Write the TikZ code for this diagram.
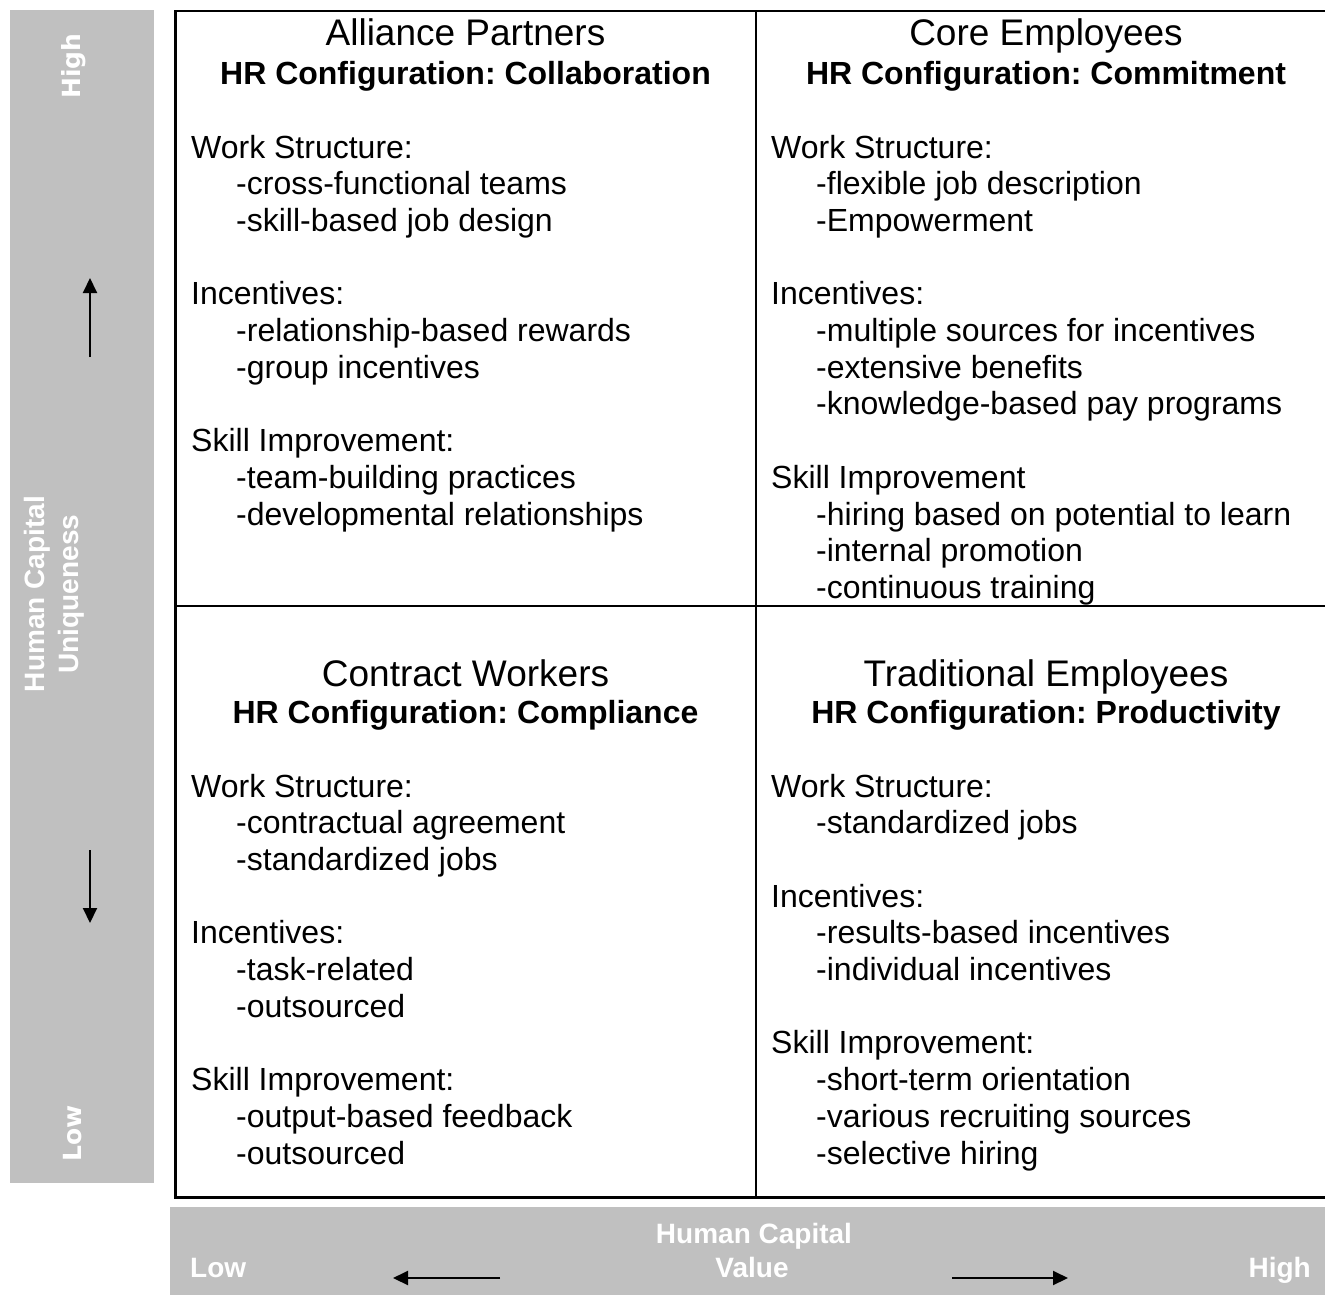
\documentclass[tikz,border=0pt]{standalone}
\usepackage{fontspec}
\setmainfont{Liberation Sans}
\newfontfamily\axisfont{DejaVu Sans}
\usetikzlibrary{arrows.meta}
\definecolor{axisgray}{RGB}{192,192,192}
\frenchspacing
\tikzset{
  frame/.style={line width=2.4pt, line cap=rect},
  band/.style={fill=axisgray, draw=none},
  entry/.style={anchor=base west, inner sep=0pt, font=\fontsize{32}{36}\selectfont},
  qtitle/.style={anchor=base, inner sep=0pt, font=\fontsize{37}{42}\selectfont},
  qconfig/.style={anchor=base, inner sep=0pt, font=\fontsize{32}{36}\selectfont\bfseries},
  axislabel/.style={inner sep=0pt, text=white, font=\fontsize{28}{34}\selectfont\bfseries},
  endlabel/.style={inner sep=0pt, text=white, font=\fontsize{25}{30}\selectfont\axisfont\bfseries},
  axarrow/.style={line width=2pt, -{Triangle[length=15pt,width=14pt]}},
}
\begin{document}
\begin{tikzpicture}[x=1pt, y=-1pt]
\path[use as bounding box] (0,0) rectangle (1325,1295);
\clip (0,0) rectangle (1325,1295);

% grey axis bands
\fill[band] (10,10) rectangle (154,1183);
\fill[band] (170,1207) rectangle (1340,1295);

% quadrant frame
\draw[frame] (175.5,11) rectangle (1336,1197.5);
\draw[frame] (756,11) -- (756,1197.5);
\draw[frame] (175.5,606) -- (1336,606);

% vertical axis: uniqueness
\node[endlabel, rotate=90, anchor=base] (uhigh) at (80,66) {High};
\node[endlabel, rotate=90, anchor=base] (ulow) at (81,1133) {Low};
\node[axislabel, rotate=90, align=center] (uname) at (54,594) {Human Capital\\Uniqueness};
\coordinate (upS) at (90,357);
\coordinate (upE) at (90,278);
\coordinate (dnS) at (90,850);
\coordinate (dnE) at (90,923);
\draw[axarrow] (upS) -- (upE);
\draw[axarrow] (dnS) -- (dnE);

% horizontal axis: value
\node[axislabel, anchor=base west] (vlow) at (190,1277) {Low};
\node[axislabel, anchor=base east] (vhigh) at (1311,1277) {High};
\node[axislabel, anchor=base] (vname1) at (754,1243) {Human Capital};
\node[axislabel, anchor=base] (vname2) at (752,1277) {Value};
\coordinate (lfS) at (500,1278);
\coordinate (lfE) at (393,1278);
\coordinate (rtS) at (952,1278);
\coordinate (rtE) at (1068,1278);
\draw[axarrow] (lfS) -- (lfE);
\draw[axarrow] (rtS) -- (rtE);

% quadrant headings
\node[qtitle] (apT) at (465.5,46) {Alliance Partners};
\node[qconfig] (apC) at (465.5,84.5) {HR Configuration: Collaboration};
\node[qtitle] (ceT) at (1046,46) {Core Employees};
\node[qconfig] (ceC) at (1046,84.5) {HR Configuration: Commitment};
\node[qtitle] (cwT) at (465.5,686) {Contract Workers};
\node[qconfig] (cwC) at (465.5,723.5) {HR Configuration: Compliance};
\node[qtitle] (teT) at (1046,686) {Traditional Employees};
\node[qconfig] (teC) at (1046,723.5) {HR Configuration: Productivity};

% quadrant practices (line number / indent level / text)
\foreach \n/\ind/\txt in {0/0/Work Structure:, 1/1/-cross-functional teams,
    2/1/-skill-based job design, 4/0/Incentives:, 5/1/-relationship-based rewards,
    6/1/-group incentives, 8/0/Skill Improvement:, 9/1/-team-building practices,
    10/1/-developmental relationships}
  \node[entry] (ap-\n) at (191+45*\ind, 158+36.7*\n) {\txt};

\foreach \n/\ind/\txt in {0/0/Work Structure:, 1/1/-flexible job description,
    2/1/-Empowerment, 4/0/Incentives:, 5/1/-multiple sources for incentives,
    6/1/-extensive benefits, 7/1/-knowledge-based pay programs,
    9/0/Skill Improvement, 10/1/-hiring based on potential to learn,
    11/1/-internal promotion, 12/1/-continuous training}
  \node[entry] (ce-\n) at (771+45*\ind, 158+36.7*\n) {\txt};

\foreach \n/\ind/\txt in {0/0/Work Structure:, 1/1/-contractual agreement,
    2/1/-standardized jobs, 4/0/Incentives:, 5/1/-task-related,
    6/1/-outsourced, 8/0/Skill Improvement:, 9/1/-output-based feedback,
    10/1/-outsourced}
  \node[entry] (cw-\n) at (191+45*\ind, 797+36.7*\n) {\txt};

\foreach \n/\ind/\txt in {0/0/Work Structure:, 1/1/-standardized jobs,
    3/0/Incentives:, 4/1/-results-based incentives, 5/1/-individual incentives,
    7/0/Skill Improvement:, 8/1/-short-term orientation,
    9/1/-various recruiting sources, 10/1/-selective hiring}
  \node[entry] (te-\n) at (771+45*\ind, 797+36.7*\n) {\txt};
\end{tikzpicture}
\end{document}
